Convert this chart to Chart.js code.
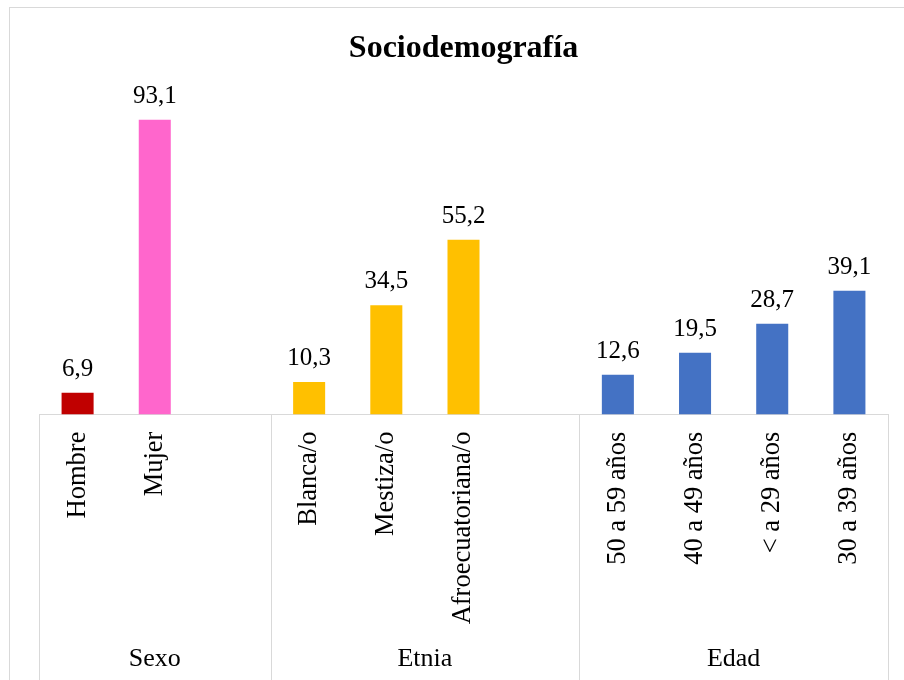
<!DOCTYPE html>
<html>
<head>
<meta charset="utf-8">
<script src="https://cdn.jsdelivr.net/npm/chart.js@4/dist/chart.umd.min.js"></script>
<style>
    html, body { margin: 0; padding: 0; background: #fff; overflow: hidden; }
    #wrap { width: 904px; height: 680px; }
</style>
</head>
<body>
<div id="wrap"><canvas id="socioChart" width="904" height="680"></canvas></div>
<script>

// --------------------------------------------------------------------------
//
//                            data
//
// --------------------------------------------------------------------------

const categories = [
    'Hombre', 'Mujer', '',
    'Blanca/o', 'Mestiza/o', 'Afroecuatoriana/o', '',
    '50 a 59 años', '40 a 49 años', '< a 29 años', '30 a 39 años'
];
const values = [6.9, 93.1, null, 10.3, 34.5, 55.2, null, 12.6, 19.5, 28.7, 39.1];
const valueLabels = ['6,9', '93,1', '', '10,3', '34,5', '55,2', '', '12,6', '19,5', '28,7', '39,1'];
const barColors = [
    '#C00000', '#FF66CC', '#FFFFFF',
    '#FFC000', '#FFC000', '#FFC000', '#FFFFFF',
    '#4472C4', '#4472C4', '#4472C4', '#4472C4'
];
const groupNames = ['Sexo', 'Etnia', 'Edad'];
const groupSizes = [3, 4, 4];

const serif = '"Liberation Serif", "Times New Roman", serif';
const lineGray = '#d9d9d9';

// --------------------------------------------------------------------------
//
//                            plugins
//
// --------------------------------------------------------------------------

const frameAndGroups = {
    id: 'frameAndGroups',
    beforeDraw(chart) {
        const ctx = chart.ctx;
        ctx.save();
        ctx.fillStyle = '#fff';
        ctx.fillRect(0, 0, chart.width, chart.height);
        ctx.strokeStyle = lineGray;
        ctx.lineWidth = 1;
        ctx.strokeRect(9.5, 7.5, 1200, 1200);
        ctx.restore();
    },
    afterDraw(chart) {
        const ctx = chart.ctx;
        const area = chart.chartArea;
        const slot = (area.right - area.left) / categories.length;
        ctx.save();
        ctx.strokeStyle = lineGray;
        ctx.lineWidth = 1;
        ctx.fillStyle = '#000';
        ctx.font = '26px ' + serif;
        ctx.textAlign = 'center';
        ctx.textBaseline = 'middle';
        let start = 0;
        const edges = [area.left];
        groupNames.forEach((name, i) => {
            const left = area.left + start * slot;
            const right = left + groupSizes[i] * slot;
            edges.push(right);
            ctx.fillText(name, (left + right) / 2, 659);
            start += groupSizes[i];
        });
        edges.forEach(e => {
            const px = Math.round(e) + 0.5;
            ctx.beginPath();
            ctx.moveTo(px, area.bottom);
            ctx.lineTo(px, chart.height);
            ctx.stroke();
        });
        ctx.restore();
    },
    afterDatasetsDraw(chart) {
        const ctx = chart.ctx;
        const meta = chart.getDatasetMeta(0);
        ctx.save();
        ctx.fillStyle = '#000';
        ctx.font = '25px ' + serif;
        ctx.textAlign = 'center';
        ctx.textBaseline = 'alphabetic';
        meta.data.forEach((bar, i) => {
            if (values[i] === null) return;
            ctx.fillText(valueLabels[i], bar.x, bar.y - 17);
        });
        ctx.restore();
    }
};

// --------------------------------------------------------------------------
//
//                            chart
//
// --------------------------------------------------------------------------

const ctx = document.getElementById('socioChart').getContext('2d');

new Chart(ctx, {
    type: 'bar',
    data: {
        labels: categories,
        datasets: [{
            label: 'Sociodemografía',
            data: values,
            backgroundColor: barColors,
            borderWidth: 0,
            barPercentage: 0.415,
            categoryPercentage: 1
        }]
    },
    options: {
        responsive: false,
        animation: false,
        layout: { padding: { left: 39, right: 16, top: 0, bottom: 0 } },
        plugins: {
            legend: { display: false },
            tooltip: { enabled: false },
            title: {
                display: true,
                text: 'Sociodemografía',
                color: '#000',
                font: { family: serif, size: 32, weight: 'bold', lineHeight: 1.2 },
                padding: { top: 30, bottom: 29.6 }
            }
        },
        scales: {
            x: {
                grid: { display: false, drawTicks: false },
                border: { display: true, color: lineGray, width: 1 },
                ticks: {
                    autoSkip: false,
                    minRotation: 90,
                    maxRotation: 90,
                    padding: 17,
                    color: '#000',
                    font: { family: serif, size: 26.5 }
                },
                afterFit(scale) { scale.height = 265.4; }
            },
            y: {
                display: false,
                min: 0,
                max: 100
            }
        }
    },
    plugins: [frameAndGroups]
});
</script>
</body>
</html>
